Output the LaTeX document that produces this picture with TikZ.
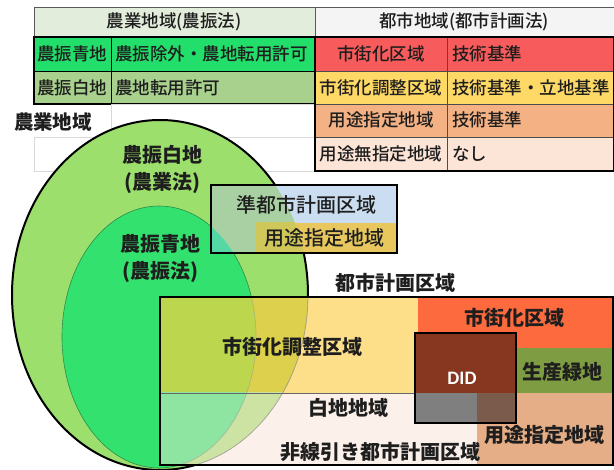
\documentclass[tikz,border=0pt]{standalone}
\usepackage{fontspec}
\setmainfont{Noto Sans CJK JP}
\newfontfamily\medfont{Noto Sans CJK JP Medium}
\newfontfamily\didfont{Carlito}
\definecolor{txt}{HTML}{1E1E1E}
\definecolor{hdrL}{HTML}{E3EDDB}
\definecolor{hdrR}{HTML}{F4F4F4}
\definecolor{aoG}{HTML}{22DE6A}
\definecolor{shiroG}{HTML}{A9D18E}
\definecolor{redC}{HTML}{F85B5B}
\definecolor{yelC}{HTML}{FFD966}
\definecolor{salC}{HTML}{F4B183}
\definecolor{palC}{HTML}{FCE5D7}
\definecolor{gridC}{HTML}{D9D9D9}
\definecolor{outerE}{HTML}{9CDF6C}
\definecolor{innerE}{HTML}{33E16E}
\definecolor{innerEdge}{HTML}{2E8C4A}
\definecolor{qBlue}{HTML}{CBDEF1}
\definecolor{qBlueO}{HTML}{A9D0A2}
\definecolor{qBlueI}{HTML}{55D8A6}
\definecolor{qMust}{HTML}{E8C85E}
\definecolor{qMustO}{HTML}{D0C75A}
\definecolor{cYel}{HTML}{FDDF8A}
\definecolor{cYelO}{HTML}{DCD04C}
\definecolor{cYelI}{HTML}{BCD64E}
\definecolor{cPink}{HTML}{FCF0EA}
\definecolor{cPinkO}{HTML}{CDE3A4}
\definecolor{cPinkI}{HTML}{8EE5A2}
\definecolor{cOrg}{HTML}{FC6A3E}
\definecolor{cOlive}{HTML}{7E9C41}
\definecolor{cSal}{HTML}{E5AE86}
\definecolor{didB}{HTML}{873720}
\definecolor{didG}{HTML}{7F7F7F}
\definecolor{didM}{HTML}{7B5B4B}
\begin{document}
\begin{tikzpicture}[x=1pt,y=-1pt,
  tbl/.style={font=\medfont\fontsize{17.5}{19}\selectfont, text=txt, inner sep=0pt, anchor=center},
  tblw/.style={tbl, anchor=west},
  lbl/.style={font=\fontsize{20}{22}\selectfont\bfseries, text=txt, inner sep=0pt, align=center},
  thick border/.style={draw=black, line width=2pt},
  thin grid/.style={draw=gridC, line width=0.8pt}]
\useasboundingbox (0,0) rectangle (614,470);
\fill[white] (0,0) rectangle (614,470);

% ---------- left table ----------
\filldraw[fill=hdrL, draw=gray!70!black, line width=0.8pt] (34,7) rectangle (315,37);
\fill[aoG] (34,37) rectangle (315,71);
\fill[shiroG] (34,71) rectangle (315,104);
\draw[black, line width=0.8pt] (34,71) -- (315,71) (111,37) -- (111,104);
\draw[thick border] (34,37) rectangle (315,104);
\draw[thin grid] (111,104) -- (315,104) -- (315,171) -- (34,171) -- (34,137) -- (315,137);
\draw[thin grid] (111,104) -- (111,171);
\node[tbl] (lh) at (174,22) {農業地域(農振法)};
\node[tbl] (l1a) at (72.5,54) {農振青地};
\node[tblw] (l1b) at (115,54) {農振除外・農地転用許可};
\node[tbl] (l2a) at (72.5,88) {農振白地};
\node[tblw] (l2b) at (115,88) {農地転用許可};
\node[font=\fontsize{19.5}{21}\selectfont\bfseries, text=txt, inner sep=0pt] (nogyo) at (53,122) {農業地域};

% ---------- right table ----------
\filldraw[fill=hdrR, draw=gray!70!black, line width=0.8pt] (315,7) rectangle (614,37);
\fill[redC] (315,37) rectangle (614,71);
\fill[yelC] (315,71) rectangle (614,104);
\fill[salC] (315,104) rectangle (614,137);
\fill[palC] (315,137) rectangle (614,171);
\draw[gray!60!black, line width=0.6pt] (315,71) -- (614,71) (315,104) -- (614,104) (315,137) -- (614,137) (447,37) -- (447,171);
\draw[thick border] (315,37) rectangle (614,171);
\node[tbl] (rh) at (464,22) {都市地域(都市計画法)};
\node[tbl] (r1a) at (381,54) {市街化区域};
\node[tblw] (r1b) at (452,54) {技術基準};
\node[tbl] (r2a) at (381,88) {市街化調整区域};
\node[tblw] (r2b) at (452,88) {技術基準・立地基準};
\node[tbl] (r3a) at (381,120) {用途指定地域};
\node[tblw] (r3b) at (452,120) {技術基準};
\node[tbl] (r4a) at (381,154) {用途無指定地域};
\node[tblw] (r4b) at (452,154) {なし};

% ---------- ellipses ----------
\path[fill=outerE, draw=black, line width=2pt] (160,295) ellipse [x radius=148pt, y radius=175pt];
\path[fill=innerE, draw=innerEdge, line width=0.6pt] (159,337) ellipse [x radius=97pt, y radius=131pt];
\node[lbl] (shiro) at (162,169) {農振白地\\[5pt](農業法)};
\node[lbl] (ao) at (160,259) {農振青地\\[5pt](農振法)};

% ---------- quasi city planning area ----------
\fill[qBlue] (211,185) rectangle (397,253);
\begin{scope}
  \clip (211,185) rectangle (397,253);
  \fill[qBlueO] (160,295) ellipse [x radius=148pt, y radius=175pt];
  \fill[qBlueI] (159,337) ellipse [x radius=97pt, y radius=131pt];
\end{scope}
\fill[qMust] (256,223) rectangle (397,253);
\begin{scope}
  \clip (256,223) rectangle (397,253);
  \fill[qMustO] (160,295) ellipse [x radius=148pt, y radius=175pt];
\end{scope}
\draw[thick border] (211,185) rectangle (397,253);
\node[lbl, font=\medfont\fontsize{20}{22}\selectfont] (jun) at (306,205) {準都市計画区域};
\node[lbl, font=\medfont\fontsize{20}{22}\selectfont] (junyoto) at (324,238) {用途指定地域};

% ---------- city planning area ----------
\node[lbl] (toshi) at (395,283) {都市計画区域};
\fill[cYel] (160,297) rectangle (418,393);
\fill[cPink] (160,393) rectangle (477,465);
\fill[cOrg] (418,297) rectangle (613,348);
\fill[cOlive] (418,348) rectangle (613,393);
\fill[cSal] (477,393) rectangle (613,465);
\begin{scope}
  \clip (160,297) rectangle (418,393);
  \fill[cYelO] (160,295) ellipse [x radius=148pt, y radius=175pt];
  \fill[cYelI] (159,337) ellipse [x radius=97pt, y radius=131pt];
\end{scope}
\begin{scope}
  \clip (160,393) rectangle (477,465);
  \fill[cPinkO] (160,295) ellipse [x radius=148pt, y radius=175pt];
  \fill[cPinkI] (159,337) ellipse [x radius=97pt, y radius=131pt];
\end{scope}
\begin{scope}
  \clip (160,297) rectangle (418,465);
  \draw[black!45, opacity=0.7, line width=0.8pt] (160,295) ellipse [x radius=148pt, y radius=175pt];
  \draw[black!40, opacity=0.6, line width=0.6pt] (159,337) ellipse [x radius=97pt, y radius=131pt];
\end{scope}
\draw[black!60, line width=0.6pt] (160,393) -- (418,393);
% DID
\fill[didB] (415,333) rectangle (516,393);
\fill[didG] (415,393) rectangle (477,423);
\fill[didM] (477,393) rectangle (516,423);
\draw[draw=black, line width=2.2pt] (415,333) rectangle (516,423);
\draw[draw=black, line width=2.5pt] (160,297) rectangle (613,465);

\node[lbl] (chosei) at (292,347) {市街化調整区域};
\node[lbl] (shigai) at (514,318) {市街化区域};
\node[font=\didfont\fontsize{19}{21}\selectfont\bfseries, text=white, inner sep=0pt] (did) at (462,378) {DID};
\node[lbl] (seisan) at (562,372) {生産緑地};
\node[lbl] (shirochi) at (348,408) {白地地域};
\node[lbl] (hisen) at (380,452) {非線引き都市計画区域};
\node[lbl] (yoto) at (544,435) {用途指定地域};
\end{tikzpicture}
\end{document}
